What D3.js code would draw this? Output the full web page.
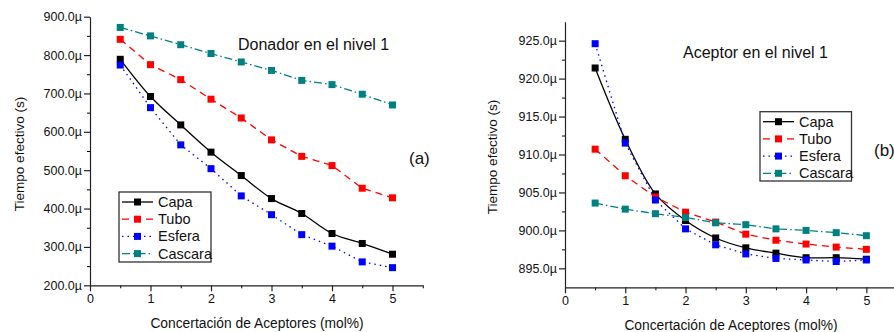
<!DOCTYPE html>
<html lang="es">
<head>
<meta charset="UTF-8" />
<script src="https://d3js.org/d3.v7.min.js"></script>
<style>
  body { margin: 0; background: #fff; }
  text { font-family: Arial, "Liberation Sans", sans-serif; fill: #111; }
</style>
</head>
<body>
<svg id="chart" width="894" height="332"></svg>
<script>
// concentration of acceptors (mol%)
const conc = [0.5, 1, 1.5, 2, 2.5, 3, 3.5, 4, 4.5, 5];

// panel (a): donor at level 1, values in µs
const capaA    = [789, 692, 618, 547, 486, 426, 387, 335, 309, 281];
const tuboA    = [841, 775, 736, 685, 636, 579, 536, 512, 453, 428];
const esferaA  = [774, 663, 566, 504, 433, 384, 332, 302, 261, 246];
const cascaraA = [872, 850, 827, 804, 782, 760, 734, 723, 698, 670];

// panel (b): acceptor at level 1, values in µs
const capaB    = [921.4, 912.0, 904.8, 901.3, 899.0, 897.7, 897.0, 896.4, 896.4, 896.2];
const tuboB    = [910.7, 907.2, 904.4, 902.4, 901.1, 899.5, 898.7, 898.2, 897.8, 897.5];
const esferaB  = [924.6, 911.5, 904.0, 900.2, 898.1, 896.9, 896.3, 896.1, 895.9, 896.1];
const cascaraB = [903.6, 902.8, 902.2, 901.7, 901.0, 900.75, 900.2, 900.0, 899.7, 899.3];

const seriesNames = ["Capa", "Tubo", "Esfera", "Cascara"];
const xTicks = [0, 1, 2, 3, 4, 5];
const yTicksA = [200, 300, 400, 500, 600, 700, 800, 900];
const yTicksB = [895, 900, 905, 910, 915, 920, 925];

const styles = {
  Capa:    { color: "#000000", dash: null,        curve: d3.curveCatmullRom },
  Tubo:    { color: "#ff0000", dash: "7,5",       curve: d3.curveLinear },
  Esfera:  { color: "#0000ff", dash: "1.5,4",     curve: d3.curveLinear },
  Cascara: { color: "#008080", dash: "8,3,1.5,3", curve: d3.curveLinear }
};

const svg = d3.select("#chart");

function drawPanel(p) {
  const x = d3.scaleLinear().domain([0, 5.5]).range([p.x0, p.x0 + 5.5 * p.unit]);
  const y = d3.scaleLinear().domain(p.yDomain).range([p.yBottom, p.yTop]);
  const g = svg.append("g");

  // minor ticks
  g.append("g")
    .attr("transform", `translate(0,${p.yBottom})`)
    .call(d3.axisBottom(x).tickValues(d3.range(0.5, 5.51, 1)).tickSize(3).tickFormat(""))
    .call(a => a.select(".domain").remove());
  g.append("g")
    .attr("transform", `translate(${p.x0},0)`)
    .call(d3.axisLeft(y).tickValues(p.minorY).tickSize(3).tickFormat(""))
    .call(a => a.select(".domain").remove());

  // major axes
  const xa = g.append("g")
    .attr("transform", `translate(0,${p.yBottom})`)
    .call(d3.axisBottom(x).tickValues(xTicks).tickSize(6).tickPadding(3).tickSizeOuter(0).tickFormat(d3.format("d")));
  const ya = g.append("g")
    .attr("transform", `translate(${p.x0},0)`)
    .call(d3.axisLeft(y).tickValues(p.yTicks).tickSize(6).tickPadding(2).tickSizeOuter(0).tickFormat(d => d.toFixed(1) + "µ"));
  [xa, ya].forEach(a => {
    a.selectAll("text").style("font-size", "12.5px").style("font-family", "Arial, 'Liberation Sans', sans-serif").attr("fill", "#111");
    a.selectAll("line, path").attr("stroke", "#222").attr("stroke-width", 1.2);
  });

  // axis titles
  g.append("text")
    .attr("transform", `translate(${p.yLabelX},${p.yLabelY}) rotate(-90)`)
    .attr("text-anchor", "middle").style("font-size", "13.5px")
    .text("Tiempo efectivo (s)");
  g.append("text")
    .attr("x", p.xLabelX).attr("y", p.xLabelY)
    .attr("text-anchor", "middle").style("font-size", "13.8px")
    .text("Concertación de Aceptores (mol%)");

  // series
  p.series.forEach((vals, i) => {
    const st = styles[seriesNames[i]];
    const pts = conc.map((c, k) => [c, vals[k]]);
    g.append("path")
      .datum(pts)
      .attr("fill", "none")
      .attr("stroke", st.color)
      .attr("stroke-width", 1.3)
      .attr("stroke-dasharray", st.dash)
      .attr("d", d3.line().x(d => x(d[0])).y(d => y(d[1])).curve(st.curve));
    g.selectAll(null).data(pts).enter().append("rect")
      .attr("x", d => x(d[0]) - 3.5).attr("y", d => y(d[1]) - 3.5)
      .attr("width", 7).attr("height", 7)
      .attr("fill", st.color);
  });

  // annotation
  g.append("text").attr("x", p.title[0]).attr("y", p.title[1])
    .style("font-size", "16px").text(p.title[2]);
  g.append("text").attr("x", p.tag[0]).attr("y", p.tag[1])
    .style("font-size", "17px").text(p.tag[2]);

  // legend
  const lg = g.append("g");
  lg.append("rect")
    .attr("x", p.legend.x).attr("y", p.legend.y)
    .attr("width", p.legend.w).attr("height", p.legend.h)
    .attr("fill", "#fff").attr("stroke", "#333").attr("stroke-width", 1.3);
  seriesNames.forEach((name, i) => {
    const st = styles[name];
    const cy = p.legend.y + 10 + i * 17.2;
    const lx = p.legend.x + 3;
    lg.append("line")
      .attr("x1", lx).attr("x2", lx + 31).attr("y1", cy).attr("y2", cy)
      .attr("stroke", st.color).attr("stroke-width", 1.3)
      .attr("stroke-dasharray", st.dash);
    lg.append("rect")
      .attr("x", lx + 15.5 - 3.5).attr("y", cy - 3.5)
      .attr("width", 7).attr("height", 7).attr("fill", st.color);
    lg.append("text")
      .attr("x", lx + 36).attr("y", cy + 5)
      .style("font-size", "14.5px").text(name);
  });
}

drawPanel({
  x0: 90, unit: 60.5, yTop: 16.7, yBottom: 285.3,
  yDomain: [200, 900], yTicks: yTicksA, minorY: d3.range(250, 900, 100),
  yLabelX: 24, yLabelY: 154, xLabelX: 257, xLabelY: 328,
  series: [capaA, tuboA, esferaA, cascaraA],
  title: [238, 50, "Donador en el nivel 1"],
  tag: [409, 164, "(a)"],
  legend: { x: 119, y: 192, w: 92, h: 70 }
});

drawPanel({
  x0: 565, unit: 60.27, yTop: 21.7, yBottom: 287.3,
  yDomain: [892.5, 927.5], yTicks: yTicksB, minorY: d3.range(897.5, 927, 5),
  yLabelX: 497, yLabelY: 157, xLabelX: 731, xLabelY: 330,
  series: [capaB, tuboB, esferaB, cascaraB],
  title: [683, 58, "Aceptor en el nivel 1"],
  tag: [874, 156, "(b)"],
  legend: { x: 760, y: 111.7, w: 91.5, h: 69.3 }
});
</script>
</body>
</html>
